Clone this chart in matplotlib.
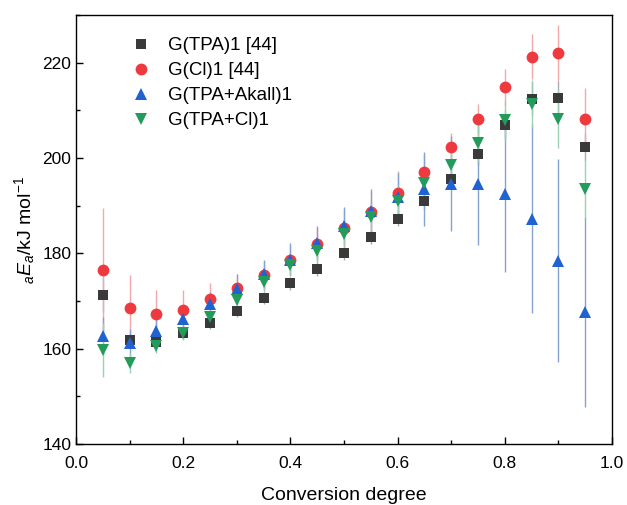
import matplotlib
matplotlib.use("Agg")
import matplotlib.pyplot as plt
import numpy as np
from matplotlib.ticker import MultipleLocator
from matplotlib.lines import Line2D

plt.rcParams['font.family'] = ['Liberation Sans', 'DejaVu Sans']
plt.rcParams['mathtext.fontset'] = 'custom'
plt.rcParams['mathtext.rm'] = 'Liberation Sans'
plt.rcParams['mathtext.it'] = 'Liberation Sans:italic'

alpha = [0.05, 0.10, 0.15, 0.20, 0.25, 0.30, 0.35, 0.40, 0.45, 0.50,
         0.55, 0.60, 0.65, 0.70, 0.75, 0.80, 0.85, 0.90, 0.95]

tpa = [171.3, 161.9, 161.4, 163.3, 165.4, 167.9, 170.6, 173.7, 176.8, 180.1,
       183.4, 187.3, 191.1, 195.6, 200.9, 207.0, 212.5, 212.7, 202.3]
tpa_err = [3.5, 1.6, 1.2, 1.2, 1.2, 1.3, 1.3, 1.4, 1.5, 1.5,
           1.5, 1.6, 1.8, 2.0, 2.5, 3.0, 3.5, 3.5, 3.0]

cl = [176.6, 168.5, 167.2, 168.2, 170.4, 172.7, 175.4, 178.6, 182.0, 185.4,
      188.6, 192.6, 197.0, 202.3, 208.2, 215.0, 221.3, 222.0, 208.2]
cl_err = [13.0, 7.0, 5.1, 4.1, 3.3, 3.0, 3.0, 3.0, 3.5, 4.0,
          4.3, 4.6, 3.7, 2.9, 3.1, 3.8, 4.7, 5.9, 6.6]

akall = [162.6, 161.2, 163.7, 166.3, 169.3, 172.6, 175.6, 178.7, 182.2, 185.7,
         189.0, 191.8, 193.5, 194.6, 194.6, 192.5, 187.3, 178.5, 167.7]
akall_err = [4.0, 3.0, 2.5, 2.5, 2.5, 3.0, 3.0, 3.5, 3.5, 4.0,
             4.5, 5.0, 7.8, 10.0, 12.9, 16.4, 19.8, 21.3, 19.9]

tpacl = [159.7, 157.0, 160.6, 163.3, 166.7, 170.2, 174.0, 177.5, 180.6, 184.1,
         187.6, 191.1, 194.7, 198.6, 203.1, 207.9, 211.3, 208.2, 193.5]
tpacl_err = [5.6, 2.2, 1.5, 1.5, 1.5, 1.8, 2.0, 2.0, 2.2, 2.5,
             2.8, 3.0, 3.2, 3.5, 3.8, 4.0, 5.0, 6.0, 6.0]

labels = ['G(TPA)1 [44]', 'G(Cl)1 [44]', 'G(TPA+Akall)1', 'G(TPA+Cl)1']

fig = plt.figure(figsize=(6.27, 5.05), dpi=100)
ax = fig.add_axes([0.1212, 0.1208, 0.8548, 0.8492])

series = [
    (tpa, tpa_err, 's', '#3a3a3a', '#a8adb5', 7.5, labels[0]),
    (cl, cl_err, 'o', '#ee3a3f', '#f3a9ac', 8.5, labels[1]),
    (akall, akall_err, '^', '#1f62d0', '#86a3cf', 8.5, labels[2]),
    (tpacl, tpacl_err, 'v', '#239b5b', '#9dd0b2', 8.5, labels[3]),
]
handles = []
for y, e, m, c, ec, ms, lab in series:
    ax.errorbar(alpha, y, yerr=e, fmt=m, color=c, ecolor=ec, elinewidth=1.0,
                capsize=3.5, capthick=0.9, markersize=ms, markeredgewidth=0)
    handles.append(Line2D([], [], linestyle='none', marker=m, color=c,
                          markersize=ms, markeredgewidth=0, label=lab))

ax.set_xlim(0.0, 1.0)
ax.set_ylim(140, 230)
ax.xaxis.set_major_locator(MultipleLocator(0.2))
ax.xaxis.set_minor_locator(MultipleLocator(0.1))
ax.yaxis.set_major_locator(MultipleLocator(20))
ax.yaxis.set_minor_locator(MultipleLocator(10))
ax.tick_params(which='both', direction='in', top=False, right=False,
               labelsize=12.5, width=1.0)
ax.tick_params(which='major', length=5)
ax.tick_params(which='minor', length=3)
ax.tick_params(axis='x', which='major', pad=9)
ax.set_xticks([0.0, 0.2, 0.4, 0.6, 0.8, 1.0])
ax.set_xticklabels(['0.0', '0.2', '0.4', '0.6', '0.8', '1.0'])
for s in ax.spines.values():
    s.set_linewidth(1.0)

ax.set_xlabel('Conversion degree', fontsize=14, labelpad=11)
ax.set_ylabel(r'$_{\mathit{a}}\mathit{E}_{\mathit{a}}$/kJ mol$^{-1}$', fontsize=14, labelpad=4)

leg = ax.legend(handles=handles, loc='upper left', bbox_to_anchor=(0.08, 0.975),
                frameon=False, fontsize=13.5, handletextpad=0.8, labelspacing=0.42,
                handlelength=1.2, borderaxespad=0.2)

fig.savefig('out.png', dpi=100)
